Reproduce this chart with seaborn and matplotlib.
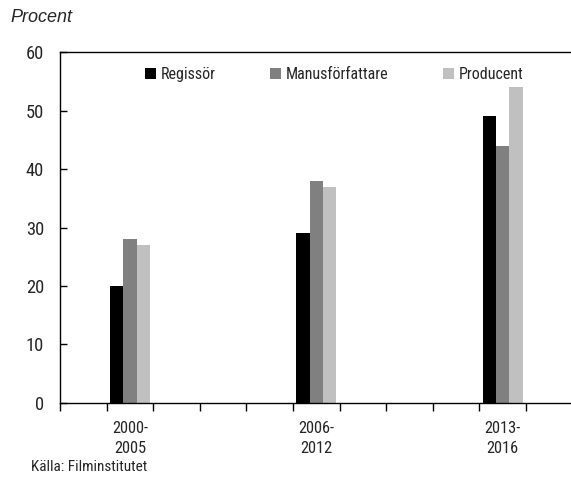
import matplotlib
matplotlib.use("Agg")
import matplotlib.pyplot as plt
import seaborn as sns
import pandas as pd
import numpy as np
from matplotlib import font_manager as fm

periods = ["2000-\n2005", "2006-\n2012", "2013-\n2016"]
roles = ["Regissör", "Manusförfattare", "Producent"]
regissor = [20, 29, 49]
manus = [28, 38, 44]
producent = [27, 37, 54]
colors = ["#000000", "#808080", "#c0c0c0"]

# Axis has 11 category slots; data sits in slots 1, 5 and 9
n_slots = 11
data_slots = [1, 5, 9]
order = [f"_{i}" for i in range(n_slots)]
for s, p in zip(data_slots, periods):
    order[s] = p

rows = []
for i, p in enumerate(periods):
    for r, vals in zip(roles, [regissor, manus, producent]):
        rows.append({"period": p, "role": r, "value": vals[i]})
df = pd.DataFrame(rows)

sns.set_theme(style="white")
names = {f.name for f in fm.fontManager.ttflist}
narrow = "Liberation Sans Narrow" if "Liberation Sans Narrow" in names else "Roboto Condensed" if "Roboto Condensed" in names else "DejaVu Sans"
plt.rcParams["font.family"] = [narrow, "DejaVu Sans"]

fig = plt.figure(figsize=(5.71, 4.82), dpi=100)
ax = fig.add_axes([0.105, 0.164, 0.898, 0.728])

sns.barplot(data=df, x="period", y="value", hue="role", order=order,
            hue_order=roles, palette=colors, width=0.858, saturation=1,
            linewidth=0, ax=ax)

ax.set_xlim(-0.5, n_slots - 0.5)
ax.set_ylim(0, 60)
ax.set_yticks(np.arange(0, 61, 10))
ax.set_xlabel("")
ax.set_ylabel("")

ax.set_xticks(data_slots)
ax.set_xticklabels(periods)
ax.set_xticks(np.arange(-0.5, n_slots, 1.0), minor=True)
ax.tick_params(axis="x", which="major", length=0, pad=13, labelsize=11.8)
ax.tick_params(axis="x", which="minor", direction="out", length=6, width=1, color="black", bottom=True)
ax.tick_params(axis="y", direction="in", length=5, width=1, color="black", left=True, pad=11.5, labelsize=13.3)
for lab in ax.get_xticklabels():
    lab.set_linespacing(1.4)

for sp in ax.spines.values():
    sp.set_color("black")
    sp.set_linewidth(1)
    sp.set_visible(True)

handles, labels = ax.get_legend_handles_labels()
ax.legend(handles, labels, loc="center", bbox_to_anchor=(0.585, 0.846),
          bbox_transform=fig.transFigure, ncol=3, frameon=False,
          handlelength=0.7, handleheight=0.7, handletextpad=0.3,
          columnspacing=3.4, fontsize=11.5)

fig.text(10 / 571, 1 - 18 / 482, "Procent", fontsize=13, style="italic",
         family="Liberation Sans", ha="left", va="center")
fig.text(31 / 571, 1 - 467 / 482, "Källa: Filminstitutet", fontsize=11,
         ha="left", va="center")

fig.savefig("out.png", dpi=100)
